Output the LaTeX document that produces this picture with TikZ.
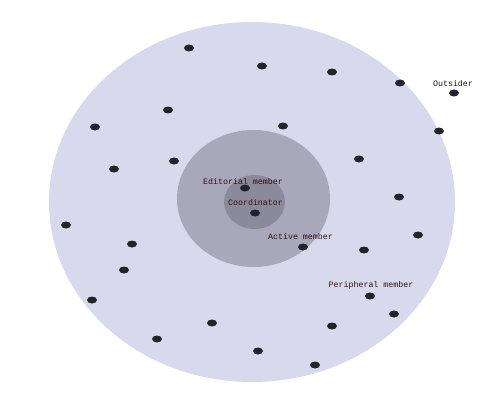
\documentclass[tikz,border=0pt]{standalone}
\usepackage{fontspec}
\setmonofont{Liberation Mono}
\begin{document}
\begin{tikzpicture}[x=1pt,y=-1pt,
  dot/.style={fill=dotcol,draw=none,ellipse,minimum width=10pt,minimum height=7pt,inner sep=0pt},
  lbl/.style={font=\ttfamily\fontsize{8.3}{9}\selectfont,text=lblcol,inner sep=0pt},
  ring/.style={draw=none}]
\usetikzlibrary{shapes.geometric}
\definecolor{outercol}{HTML}{D9D9EE}
\definecolor{midcol}{HTML}{A8A8BA}
\definecolor{innercol}{HTML}{8A8A9A}
\definecolor{dotcol}{HTML}{23232E}
\definecolor{lblcol}{HTML}{301015}
\useasboundingbox (0,0) rectangle (500,417);
\fill[white] (0,0) rectangle (500,417);
\fill[outercol] (252,202) ellipse [x radius=203, y radius=180];
\fill[midcol] (253.5,198.5) ellipse [x radius=76.5, y radius=68.5];
\fill[innercol] (254.5,202) ellipse [x radius=30.5, y radius=27];
\foreach \px/\py [count=\i] in {189/48,262/66,332/72,400/83,454/93,168/110,95/127,283/126,439/131,174/161,114/169,359/159,399/197,245/188,255/213,66/225,132/244,418/235,303/247,364/250,124/270,92/300,370/296,394/314,212/323,332/326,157/339,258/351,315/365}
  \node[dot] (d\i) at (\px,\py) {};
\node[lbl] (editorial) at (243,182) {Editorial member};
\node[lbl] (coord) at (255.5,203) {Coordinator};
\node[lbl] (active) at (300.5,237) {Active member};
\node[lbl] (peripheral) at (371,285) {Peripheral member};
\node[lbl] (outsider) at (453,84) {Outsider};
\end{tikzpicture}
\end{document}
